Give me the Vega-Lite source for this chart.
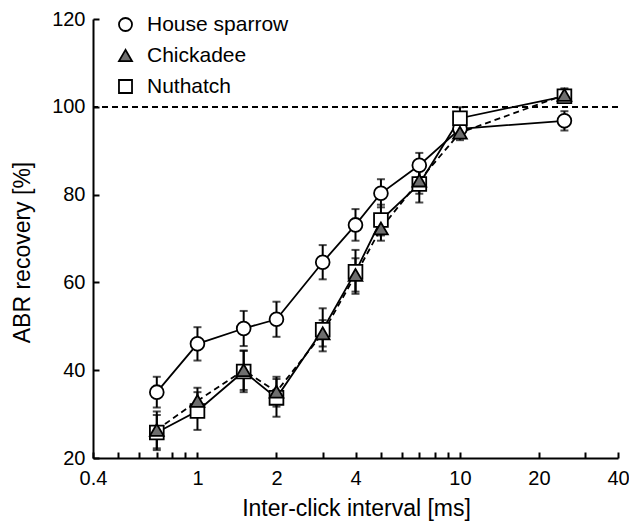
{
  "$schema": "https://vega.github.io/schema/vega-lite/v6.json",
  "autosize": "none",
  "width": 525,
  "height": 439,
  "padding": {"left": 93, "top": 19, "right": 11, "bottom": 65},
  "background": "white",
  "config": {
    "view": {"stroke": null},
    "font": "Liberation Sans",
    "axis": {
      "domainColor": "black", "domainWidth": 2, "tickColor": "black", "tickWidth": 2, "tickSize": -6,
      "grid": false, "labelColor": "black", "titleColor": "black", "labelFontSize": 20, "titleFontSize": 23,
      "titleFontWeight": "normal", "labelFont": "Liberation Sans", "titleFont": "Liberation Sans"
    },
    "legend": {
      "labelFontSize": 21, "labelColor": "black", "labelFont": "Liberation Sans",
      "symbolSize": 170, "symbolStrokeColor": "black", "symbolStrokeWidth": 1.8, "rowPadding": 9,
      "labelOffset": 11, "symbolOpacity": 1
    }
  },
  "data": {"values": [
    {"species": "House sparrow", "x": 0.7, "y": 35.0, "lo": 31.5, "hi": 38.5},
    {"species": "House sparrow", "x": 1, "y": 46.0, "lo": 42.2, "hi": 49.8},
    {"species": "House sparrow", "x": 1.5, "y": 49.5, "lo": 45.5, "hi": 53.5},
    {"species": "House sparrow", "x": 2, "y": 51.6, "lo": 47.6, "hi": 55.6},
    {"species": "House sparrow", "x": 3, "y": 64.6, "lo": 60.7, "hi": 68.5},
    {"species": "House sparrow", "x": 4, "y": 73.1, "lo": 69.5, "hi": 76.7},
    {"species": "House sparrow", "x": 5, "y": 80.3, "lo": 77.1, "hi": 83.5},
    {"species": "House sparrow", "x": 7, "y": 86.7, "lo": 83.9, "hi": 89.5},
    {"species": "House sparrow", "x": 10, "y": 95.0, "lo": 93.5, "hi": 96.5},
    {"species": "House sparrow", "x": 25, "y": 96.8, "lo": 94.6, "hi": 99.0},
    {"species": "Nuthatch", "x": 0.7, "y": 25.8, "lo": 21.8, "hi": 29.8},
    {"species": "Nuthatch", "x": 1, "y": 30.7, "lo": 26.4, "hi": 35.0},
    {"species": "Nuthatch", "x": 1.5, "y": 39.7, "lo": 35.0, "hi": 44.4},
    {"species": "Nuthatch", "x": 2, "y": 33.7, "lo": 29.4, "hi": 38.0},
    {"species": "Nuthatch", "x": 3, "y": 49.2, "lo": 44.3, "hi": 54.1},
    {"species": "Nuthatch", "x": 4, "y": 62.4, "lo": 57.4, "hi": 67.4},
    {"species": "Nuthatch", "x": 5, "y": 74.2, "lo": 70.7, "hi": 77.7},
    {"species": "Nuthatch", "x": 7, "y": 82.4, "lo": 78.2, "hi": 86.6},
    {"species": "Nuthatch", "x": 10, "y": 97.4, "lo": 94.9, "hi": 99.9},
    {"species": "Nuthatch", "x": 25, "y": 102.4, "lo": 100.9, "hi": 103.9},
    {"species": "Chickadee", "x": 0.7, "y": 26.4, "lo": 22.2, "hi": 30.6},
    {"species": "Chickadee", "x": 1, "y": 33.0, "lo": 30.0, "hi": 36.0},
    {"species": "Chickadee", "x": 1.5, "y": 40.0, "lo": 35.5, "hi": 44.5},
    {"species": "Chickadee", "x": 2, "y": 35.1, "lo": 31.7, "hi": 38.5},
    {"species": "Chickadee", "x": 3, "y": 48.4, "lo": 45.4, "hi": 51.4},
    {"species": "Chickadee", "x": 4, "y": 61.7, "lo": 57.9, "hi": 65.5},
    {"species": "Chickadee", "x": 5, "y": 72.3, "lo": 69.5, "hi": 75.1},
    {"species": "Chickadee", "x": 7, "y": 83.2, "lo": 80.2, "hi": 86.2},
    {"species": "Chickadee", "x": 10, "y": 94.1, "lo": 92.4, "hi": 95.8},
    {"species": "Chickadee", "x": 25, "y": 102.7, "lo": 101.2, "hi": 104.2}
  ]},
  "encoding": {
    "x": {"field": "x", "type": "quantitative",
      "scale": {"type": "log", "domain": [0.4, 40], "nice": false},
      "axis": {"title": "Inter-click interval [ms]",
        "values": [0.4, 0.5, 0.6, 0.7, 0.8, 0.9, 1, 2, 3, 4, 5, 6, 7, 8, 9, 10, 20, 30, 40],
        "labelExpr": "indexof([0.4, 1, 2, 4, 10, 20, 40], datum.value) >= 0 ? datum.label : ''",
        "labelPadding": 16, "titlePadding": 9, "titleX": 263, "labelFlush": false, "labelOverlap": false}},
    "y": {"type": "quantitative",
      "scale": {"domain": [20, 120], "nice": false, "zero": false},
      "axis": {"title": "ABR recovery [%]", "values": [20, 40, 60, 80, 100, 120],
        "labelPadding": 14, "titlePadding": 17, "titleY": 233}}
  },
  "layer": [
    {"mark": {"type": "rule", "strokeDash": [6, 4], "strokeWidth": 1.8, "color": "black"},
     "encoding": {"y": {"datum": 100}, "x": null}},
    {"transform": [{"filter": "datum.species !== 'Chickadee'"}],
     "mark": {"type": "line", "color": "black", "strokeWidth": 1.8},
     "encoding": {"y": {"field": "y"}, "detail": {"field": "species", "type": "nominal"}}},
    {"transform": [{"filter": "datum.species === 'Chickadee'"}],
     "mark": {"type": "line", "color": "black", "strokeWidth": 1.8, "strokeDash": [6, 4]},
     "encoding": {"y": {"field": "y"}}},
    {"mark": {"type": "rule", "color": "black", "strokeWidth": 2},
     "encoding": {"y": {"field": "lo"}, "y2": {"field": "hi"}}},
    {"mark": {"type": "tick", "orient": "horizontal", "color": "black", "size": 8, "thickness": 2},
     "encoding": {"y": {"field": "lo"}}},
    {"mark": {"type": "tick", "orient": "horizontal", "color": "black", "size": 8, "thickness": 2},
     "encoding": {"y": {"field": "hi"}}},
    {"mark": {"type": "point", "filled": true, "stroke": "black", "strokeWidth": 1.8, "size": 190, "opacity": 1},
     "encoding": {"y": {"field": "y"},
       "shape": {"field": "species", "type": "nominal",
         "scale": {"domain": ["House sparrow", "Chickadee", "Nuthatch"], "range": ["circle", "triangle-up", "square"]},
         "legend": {"title": null, "orient": "none", "legendX": 22, "legendY": -5,
           "encode": {"symbols": {"update": {"stroke": {"value": "black"}, "strokeWidth": {"value": 1.8}}}}}},
       "fill": {"field": "species", "type": "nominal",
         "scale": {"domain": ["House sparrow", "Chickadee", "Nuthatch"], "range": ["white", "#6e6e6e", "white"]},
         "legend": {"title": null, "orient": "none", "legendX": 22, "legendY": -5,
           "encode": {"symbols": {"update": {"stroke": {"value": "black"}, "strokeWidth": {"value": 1.8}}}}}}}}
  ]
}
